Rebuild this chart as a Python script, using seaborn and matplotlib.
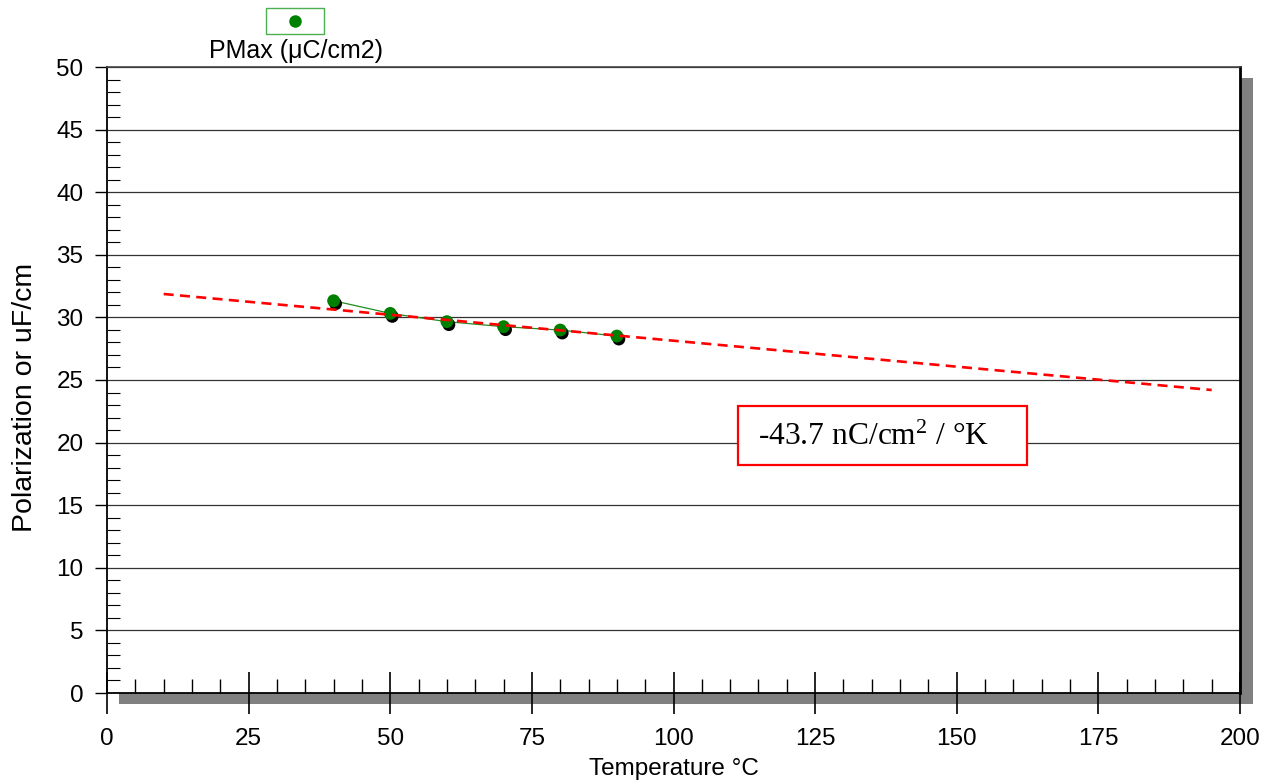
import matplotlib
matplotlib.use("Agg")
import matplotlib.pyplot as plt
import matplotlib.transforms as mtransforms
from matplotlib.patches import Rectangle
from matplotlib.lines import Line2D
from matplotlib.ticker import MultipleLocator
import seaborn as sns
import pandas as pd

# ---- data ----
temperature = [40, 50, 60, 70, 80, 90]
pmax = [31.33, 30.32, 29.66, 29.26, 28.99, 28.51]
trend_x = [10, 195]
trend_y = [31.87, 24.2]
series_label = "PMax (μC/cm2)"
annotation = "-43.7 nC/cm$^2$ / °K"
x_label = "Temperature °C"
y_label = "Polarization or uF/cm"

sns.set_theme(style="white")
plt.rcParams['font.family'] = ['Liberation Sans', 'DejaVu Sans']
plt.rcParams['mathtext.fontset'] = 'custom'
plt.rcParams['mathtext.rm'] = 'Liberation Serif'
plt.rcParams['mathtext.it'] = 'Liberation Serif:italic'
plt.rcParams['mathtext.bf'] = 'Liberation Serif:bold'

W, H = 1268, 783
fig = plt.figure(figsize=(W / 100, H / 100), dpi=100)
fig.patch.set_facecolor("white")

def fx(px):
    return px / W

def fy(py):
    return 1 - py / H

ax_l, ax_r, ax_t, ax_b = 107, 1240, 67, 693
ax = fig.add_axes([fx(ax_l), fy(ax_b), fx(ax_r) - fx(ax_l), fy(ax_t) - fy(ax_b)])
ax.set_facecolor("white")
ax.set_zorder(2)

# drop shadow of plot frame
shadow = Rectangle((fx(119), fy(704)), fx(1253) - fx(119), fy(78) - fy(704),
                   transform=fig.transFigure, facecolor="#808080", edgecolor="none", zorder=0)
fig.patches.append(shadow)

df = pd.DataFrame({"T": temperature, "P": pmax})

# grid lines
for yv in range(5, 55, 5):
    ax.axhline(yv, color="#333333", lw=0.9, zorder=1)

# data line
sns.lineplot(data=df, x="T", y="P", ax=ax, color="#228B22", lw=0.9, zorder=3)
# marker shadow
off = mtransforms.ScaledTranslation(2 / 100, -3 / 100, fig.dpi_scale_trans)
sns.scatterplot(data=df, x="T", y="P", ax=ax, color="black", s=85, edgecolor="none",
                transform=ax.transData + off, zorder=4)
sns.scatterplot(data=df, x="T", y="P", ax=ax, color="#008000", s=85, edgecolor="none", zorder=5)

# trend line
sns.lineplot(x=trend_x, y=trend_y, ax=ax, color="red", lw=1.9, linestyle=(0, (3.8, 2.4)), zorder=6)

ax.set_xlim(0, 200)
ax.set_ylim(0, 50)
ax.xaxis.set_major_locator(MultipleLocator(25))
ax.xaxis.set_minor_locator(MultipleLocator(5))
ax.yaxis.set_major_locator(MultipleLocator(5))
ax.yaxis.set_minor_locator(MultipleLocator(1))

ax.tick_params(axis="x", which="major", direction="inout", length=30, width=1.2, color="black",
               labelsize=17.5, pad=10, bottom=True)
ax.tick_params(axis="x", which="minor", direction="in", length=10, width=1.0, color="black", bottom=True)
ax.tick_params(axis="y", which="major", direction="out", length=9, width=1.0, color="black",
               labelsize=17.5, pad=8, left=True)
ax.tick_params(axis="y", which="minor", direction="in", length=9, width=0.8, color="black", left=True)
ax.tick_params(colors="black", which="both")
for lab in ax.get_xticklabels() + ax.get_yticklabels():
    lab.set_color("black")

for s in ["left", "bottom", "right"]:
    ax.spines[s].set_visible(True)
    ax.spines[s].set_color("black")
    ax.spines[s].set_linewidth(1.3)
ax.spines["top"].set_visible(True)
ax.spines["top"].set_color("#444444")
ax.spines["top"].set_linewidth(1.2)
ax.spines["right"].set_linewidth(2.0)

ax.set_xlabel(x_label, fontsize=17.5, color="black", labelpad=6)
ax.set_ylabel(y_label, fontsize=20.5, color="black")
ax.yaxis.set_label_coords(-0.061, 0.472)

# annotation box
ax.add_patch(Rectangle((111.4, 18.2), 51.0, 4.7, facecolor="white", edgecolor="red", lw=1.6, zorder=7))
ax.text(115.0, 20.45, annotation, fontsize=22.7, family=["Liberation Serif", "DejaVu Serif"],
        va="center", ha="left", color="black", zorder=8)

# legend
fig.add_artist(Rectangle((fx(266), fy(34)), fx(324) - fx(266), fy(8) - fy(34),
                         transform=fig.transFigure, facecolor="white", edgecolor="#4CAF50", lw=1.0))
fig.add_artist(Line2D([fx(295)], [fy(21)], marker="o", markersize=9, color="#008000",
                      markeredgecolor="none", transform=fig.transFigure))
fig.text(fx(296), fy(51), series_label, fontsize=18, ha="center", va="center", color="black")

fig.savefig("out.png", dpi=100, facecolor="white")
